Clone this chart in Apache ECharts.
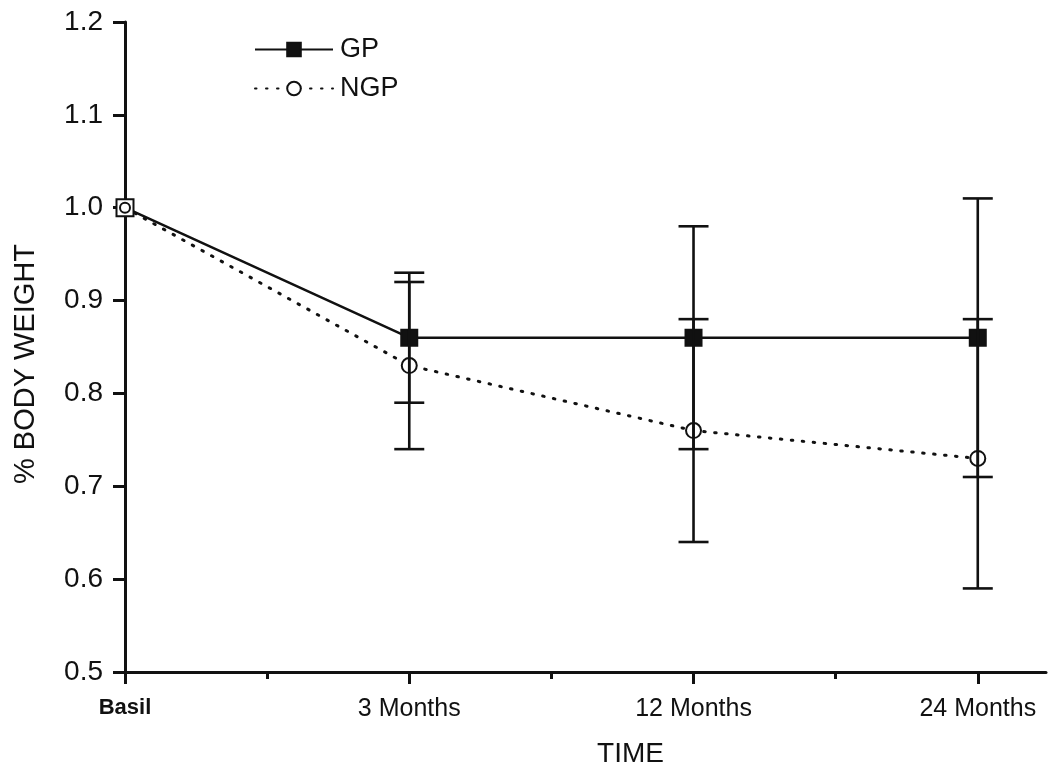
<!DOCTYPE html>
<html>
<head>
<meta charset="utf-8">
<script src="https://cdn.jsdelivr.net/npm/echarts@6/dist/echarts.min.js"></script>
<style>
html,body{margin:0;padding:0;background:#fff;}
#chart{width:1050px;height:777px;}
</style>
</head>
<body>
<div id="chart"></div>
<script>
// ---- data ----
const xPos = [0, 1, 2, 3];
const tickLabels = ['Basil', '3 Months', '12 Months', '24 Months'];
const minorTicks = [0.5, 1.5, 2.5];
const gpMean = [1.0, 0.86, 0.86, 0.86];
const gpLow = [null, 0.79, 0.74, 0.71];
const gpHigh = [null, 0.93, 0.98, 1.01];
const ngpMean = [1.0, 0.83, 0.76, 0.73];
const ngpLow = [null, 0.74, 0.64, 0.59];
const ngpHigh = [null, 0.92, 0.88, 0.88];

const FONT = "'Liberation Sans', Arial, Helvetica, sans-serif";
const INK = '#111';

function errData(low, high) {
  return xPos.map((x, i) => [x, low[i], high[i]]).filter(d => d[1] != null);
}
function renderErr(params, api) {
  const x = api.value(0), lo = api.value(1), hi = api.value(2);
  const pLo = api.coord([x, lo]);
  const pHi = api.coord([x, hi]);
  const w = 15;
  const st = { stroke: INK, lineWidth: 2.6 };
  return {
    type: 'group',
    children: [
      { type: 'line', shape: { x1: pLo[0], y1: pLo[1], x2: pHi[0], y2: pHi[1] }, style: st },
      { type: 'line', shape: { x1: pLo[0] - w, y1: pLo[1], x2: pLo[0] + w, y2: pLo[1] }, style: st },
      { type: 'line', shape: { x1: pHi[0] - w, y1: pHi[1], x2: pHi[0] + w, y2: pHi[1] }, style: st }
    ]
  };
}

const chart = echarts.init(document.getElementById('chart'));
const X_MAX = 3.24;
chart.setOption({
  backgroundColor: '#fff',
  animation: false,
  textStyle: { fontFamily: FONT, color: INK },
  grid: { left: 125, right: 4, top: 22, bottom: 105, containLabel: false, outerBoundsMode: 'none' },
  legend: {
    data: ['GP', 'NGP'],
    orient: 'vertical',
    left: 254,
    top: 36,
    padding: 0,
    itemWidth: 78,
    itemHeight: 17,
    itemGap: 12,
    textStyle: { fontFamily: FONT, fontSize: 27, color: INK, lineHeight: 26, padding: [0, 0, 0, 2] }
  },
  xAxis: [
    {
      type: 'value',
      min: 0,
      max: X_MAX,
      name: 'TIME',
      nameLocation: 'middle',
      nameGap: 68,
      nameTextStyle: { fontFamily: FONT, fontSize: 28, color: INK, padding: [0, 0, 0, 90] },
      axisLine: { show: true, lineStyle: { color: INK, width: 3 } },
      axisTick: { show: true, length: 12, lineStyle: { color: INK, width: 3 }, customValues: xPos },
      axisLabel: {
        customValues: xPos,
        margin: 25,
        fontFamily: FONT,
        fontSize: 25,
        color: INK,
        formatter: function (v) {
          const i = xPos.indexOf(v);
          if (i < 0) return '';
          return i === 0 ? '{b|' + tickLabels[i] + '}' : tickLabels[i];
        },
        rich: { b: { fontFamily: FONT, fontSize: 22, fontWeight: 'bold', color: INK } }
      },
      splitLine: { show: false }
    },
    {
      type: 'value',
      min: 0,
      max: X_MAX,
      position: 'bottom',
      axisLine: { show: false },
      axisTick: { show: true, length: 7, lineStyle: { color: INK, width: 3 }, customValues: minorTicks },
      axisLabel: { show: false },
      splitLine: { show: false }
    }
  ],
  yAxis: {
    type: 'value',
    min: 0.5,
    max: 1.2,
    interval: 0.1,
    name: '% BODY WEIGHT',
    nameLocation: 'middle',
    nameGap: 85,
    nameTextStyle: { fontFamily: FONT, fontSize: 29, color: INK, padding: [0, 34, 0, 0] },
    axisLine: { show: true, lineStyle: { color: INK, width: 3 } },
    axisTick: { show: true, length: 12, lineStyle: { color: INK, width: 3 } },
    axisLabel: {
      margin: 22,
      fontFamily: FONT,
      fontSize: 28,
      color: INK,
      formatter: v => v.toFixed(1)
    },
    splitLine: { show: false }
  },
  series: [
    {
      name: 'GP',
      type: 'line',
      xAxisIndex: 0,
      data: xPos.map((x, i) => i === 0
        ? { value: [x, gpMean[i]], symbol: 'emptyRect', symbolSize: 17 }
        : [x, gpMean[i]]),
      symbol: 'rect',
      symbolSize: 16,
      showSymbol: true,
      lineStyle: { color: INK, width: 2.5, type: 'solid' },
      itemStyle: { color: INK, borderColor: INK, borderWidth: 2 },
      z: 3
    },
    {
      name: 'NGP',
      type: 'line',
      xAxisIndex: 0,
      data: xPos.map((x, i) => i === 0
        ? { value: [x, ngpMean[i]], symbolSize: 10 }
        : [x, ngpMean[i]]),
      symbol: 'emptyCircle',
      symbolSize: 15,
      showSymbol: true,
      lineStyle: { color: INK, width: 3, type: [1.5, 9.5], cap: 'round' },
      itemStyle: { color: INK, borderColor: INK, borderWidth: 2 },
      z: 4
    },
    {
      name: 'GP err',
      type: 'custom',
      xAxisIndex: 0,
      renderItem: renderErr,
      encode: { x: 0, y: [1, 2] },
      data: errData(gpLow, gpHigh),
      z: 5
    },
    {
      name: 'NGP err',
      type: 'custom',
      xAxisIndex: 0,
      renderItem: renderErr,
      encode: { x: 0, y: [1, 2] },
      data: errData(ngpLow, ngpHigh),
      z: 5
    }
  ]
});
</script>
</body>
</html>
